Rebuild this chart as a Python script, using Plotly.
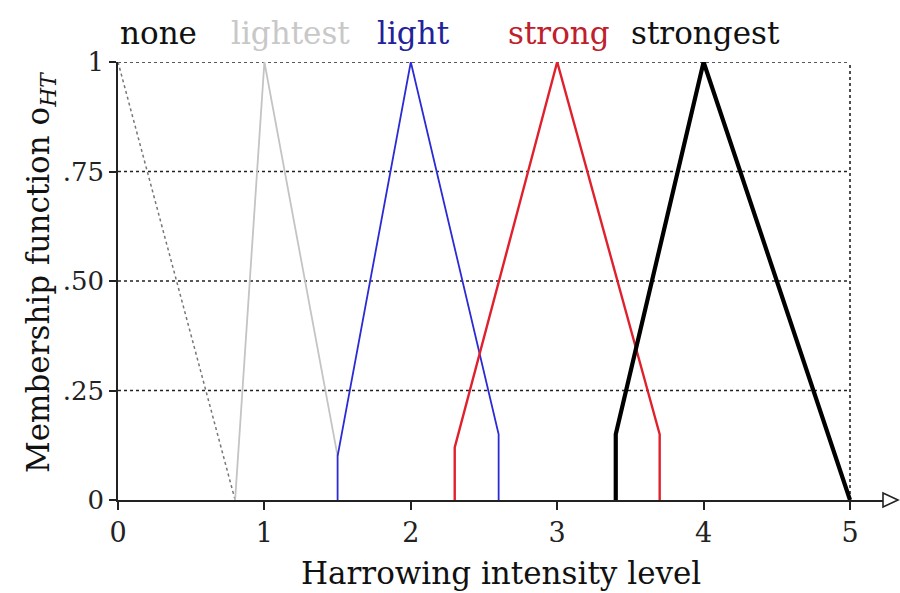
import plotly.graph_objects as go

# ---- data ----
none_x = [0, 0.8]
none_y = [1, 0]
lightest_x = [0.8, 1.0, 1.5]
lightest_y = [0, 1, 0.1]
light_x = [1.5, 1.5, 2.0, 2.6, 2.6]
light_y = [0, 0.1, 1, 0.15, 0]
strong_x = [2.3, 2.3, 3.0, 3.7, 3.7]
strong_y = [0, 0.12, 1, 0.15, 0]
strongest_x = [3.4, 3.4, 4.0, 5.0]
strongest_y = [0, 0.15, 1, 0]

labels = ["none", "lightest", "light", "strong", "strongest"]
label_x = [0.0, 1.18, 2.02, 3.01, 4.01]
label_anchor = ["left", "center", "center", "center", "center"]
label_colors = ["#111111", "#c8c8c8", "#22229a", "#c0202c", "#111111"]

x_ticks = [0, 1, 2, 3, 4, 5]
y_ticks = [0, 0.25, 0.5, 0.75, 1]
y_ticktext = ["0", ".25", ".50", ".75", "1"]
grid_y = [0.25, 0.5, 0.75, 1]
x_max = 5

FONT = "DejaVu Serif"

fig = go.Figure()

# dotted grid (ends at x = 5)
for gy in grid_y:
    fig.add_trace(go.Scatter(x=[0, x_max], y=[gy, gy], mode="lines",
                             line=dict(color="#222222", width=1.6, dash="dot"),
                             hoverinfo="skip", showlegend=False, cliponaxis=False))
fig.add_trace(go.Scatter(x=[x_max, x_max], y=[0, 1], mode="lines",
                         line=dict(color="#222222", width=1.6, dash="dot"),
                         hoverinfo="skip", showlegend=False, cliponaxis=False))

# membership functions
fig.add_trace(go.Scatter(x=none_x, y=none_y, mode="lines",
                         line=dict(color="#777777", width=1.5, dash="dot"),
                         showlegend=False, cliponaxis=False))
fig.add_trace(go.Scatter(x=lightest_x, y=lightest_y, mode="lines",
                         line=dict(color="#c4c4c4", width=1.8),
                         showlegend=False, cliponaxis=False))
fig.add_trace(go.Scatter(x=light_x, y=light_y, mode="lines",
                         line=dict(color="#2b2bd6", width=1.8),
                         showlegend=False, cliponaxis=False))
fig.add_trace(go.Scatter(x=strong_x, y=strong_y, mode="lines",
                         line=dict(color="#e0202c", width=2.4),
                         showlegend=False, cliponaxis=False))
fig.add_trace(go.Scatter(x=strongest_x, y=strongest_y, mode="lines",
                         line=dict(color="#000000", width=4.2),
                         showlegend=False, cliponaxis=False))

# top labels
for t, lx, anc, c in zip(labels, label_x, label_anchor, label_colors):
    fig.add_annotation(x=lx, y=1, xref="x", yref="y", text=t, showarrow=False,
                       xanchor=anc, yanchor="bottom", yshift=9,
                       font=dict(family=FONT, size=31, color=c))

L, R, T, B = 118, 17, 62, 93
W, H = 900, 593
pw = W - L - R
ph = H - T - B
px_per_unit = 146.4

# axis titles
fig.add_annotation(x=(501 - L) / pw, y=-(573 - (H - B)) / ph, xref="paper", yref="paper",
                   text="Harrowing intensity level", showarrow=False,
                   xanchor="center", yanchor="middle",
                   font=dict(family=FONT, size=31, color="#111111"))
fig.add_annotation(x=(40 - L) / pw, y=((H - B) - 273) / ph, xref="paper", yref="paper",
                   text="Membership function o<sub><i>HT</i></sub>", showarrow=False,
                   textangle=-90, xanchor="center", yanchor="middle",
                   font=dict(family=FONT, size=31, color="#111111"))

# arrow head at end of x axis
ax0 = 1.0
ax1 = 1.0 + 15 / pw
hh = 7 / ph
fig.add_shape(type="path", xref="paper", yref="paper",
              path=f"M {ax0} {hh} L {ax1} 0 L {ax0} {-hh} Z",
              line=dict(color="#222222", width=1.6), fillcolor="white")

fig.update_layout(
    width=W, height=H,
    margin=dict(l=L, r=R, t=T, b=B),
    paper_bgcolor="white", plot_bgcolor="white",
    xaxis=dict(range=[0, pw / px_per_unit], tickvals=x_ticks, ticks="outside",
               ticklen=8, tickwidth=1.6, tickcolor="#222222",
               showline=True, linecolor="#222222", linewidth=1.6,
               showgrid=False, zeroline=False,
               tickfont=dict(family=FONT, size=27, color="#222222")),
    yaxis=dict(range=[0, 1], tickvals=y_ticks, ticktext=y_ticktext, ticks="outside",
               ticklen=7, tickwidth=1.6, tickcolor="#222222",
               showline=True, linecolor="#222222", linewidth=1.6,
               showgrid=False, zeroline=False,
               tickfont=dict(family=FONT, size=26, color="#222222")),
)

fig.write_html("out.html")
